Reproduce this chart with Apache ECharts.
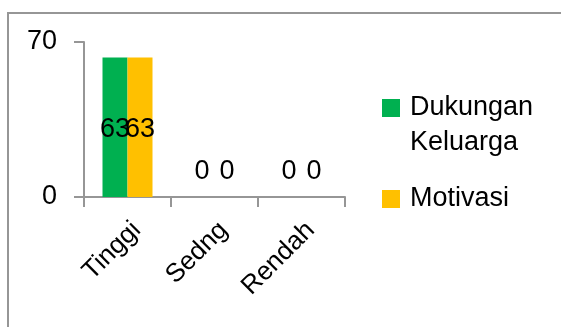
<!DOCTYPE html>
<html>
<head>
<meta charset="utf-8">
<script src="https://cdn.jsdelivr.net/npm/echarts@6/dist/echarts.min.js"></script>
<style>
  html, body { margin: 0; padding: 0; background: #fff; }
  #chart { width: 561px; height: 327px; }
</style>
</head>
<body>
<div id="chart"></div>
<script>
// Category labels along the x axis
const categories = ['Tinggi', 'Sedng', 'Rendah'];
// Series values
const dukunganKeluarga = [63, 0, 0];
const motivasi = [63, 0, 0];
// Value axis range
const yMin = 0;
const yMax = 70;

const FONT = 'Liberation Sans';
const AXIS_GRAY = '#969696';
const LINE_H = 35;

// Labels sit in the middle of a bar; zero-height bars get them lifted above the axis
function toData(values) {
  return values.map(v => ({
    value: v,
    label: v === 0 ? { position: 'top', distance: 12 } : { position: 'inside', offset: [0, 2] }
  }));
}

// Legend text: each line is its own rich fragment, nudged away from the swatch
const legendRich = {
  t: { fontFamily: FONT, fontSize: 27, color: '#000', lineHeight: LINE_H, padding: [0, 0, 0, 5] }
};

const legendBase = {
  orient: 'vertical',
  left: 382,
  padding: 0,
  itemWidth: 18,
  itemHeight: 18,
  icon: 'rect',
  textStyle: { fontFamily: FONT, fontSize: 27, color: '#000', lineHeight: LINE_H, rich: legendRich }
};

const chart = echarts.init(document.getElementById('chart'), null, { renderer: 'canvas' });

chart.setOption({
  animation: false,
  backgroundColor: '#fff',
  textStyle: { fontFamily: FONT },
  graphic: [{
    type: 'polyline',
    shape: { points: [[8, 327], [8, 13], [561, 13]] },
    style: { stroke: AXIS_GRAY, lineWidth: 2, fill: null }
  }],
  grid: { left: 84, right: 216, top: 42, bottom: 130, containLabel: false },
  legend: [
    Object.assign({}, legendBase, {
      top: 55.5,
      data: ['Dukungan Keluarga'],
      // blank first line keeps "Dukungan" level with the swatch
      formatter: name => '{t| }\n' + name.split(' ').map(w => '{t|' + w + '}').join('\n')
    }),
    Object.assign({}, legendBase, {
      top: 181.5,
      data: ['Motivasi'],
      formatter: name => '{t|' + name + '}'
    })
  ],
  xAxis: {
    type: 'category',
    data: categories,
    axisLine: { lineStyle: { color: AXIS_GRAY, width: 2 } },
    axisTick: { show: true, length: 10, alignWithLabel: false, lineStyle: { color: AXIS_GRAY, width: 2 } },
    axisLabel: {
      rotate: 45, margin: 20, verticalAlign: 'top',
      fontFamily: FONT, fontSize: 26, color: '#000'
    }
  },
  yAxis: {
    type: 'value',
    min: yMin,
    max: yMax,
    interval: 70,
    splitLine: { show: false },
    axisLine: { show: true, lineStyle: { color: AXIS_GRAY, width: 2 } },
    axisTick: { show: true, length: 10, lineStyle: { color: AXIS_GRAY, width: 2 } },
    axisLabel: { margin: 27, fontFamily: FONT, fontSize: 27, color: '#000' }
  },
  series: [
    {
      name: 'Dukungan Keluarga',
      type: 'bar',
      data: toData(dukunganKeluarga),
      barWidth: 25,
      barGap: '0%',
      itemStyle: { color: '#00B050' },
      label: { show: true, fontFamily: FONT, fontSize: 27, color: '#000' }
    },
    {
      name: 'Motivasi',
      type: 'bar',
      data: toData(motivasi),
      barWidth: 25,
      barGap: '0%',
      itemStyle: { color: '#FFC000' },
      label: { show: true, fontFamily: FONT, fontSize: 27, color: '#000' }
    }
  ]
});
</script>
</body>
</html>
